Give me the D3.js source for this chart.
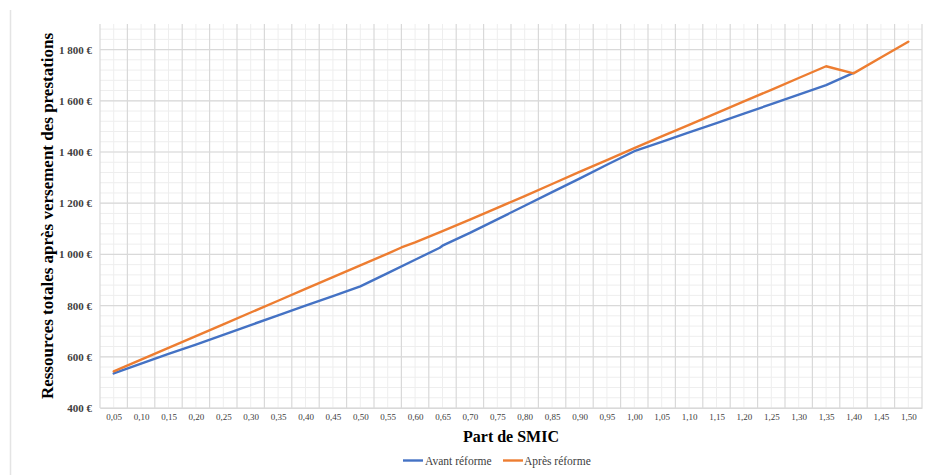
<!DOCTYPE html>
<html>
<head>
<meta charset="utf-8">
<script src="https://cdn.jsdelivr.net/npm/d3@7"></script>
<style>
  html, body { margin: 0; padding: 0; background: #fff; }
  svg { display: block; }
</style>
</head>
<body>
<svg id="chart" width="949" height="475"></svg>
<script>
const categories = [0.05,0.10,0.15,0.20,0.25,0.30,0.35,0.40,0.45,0.50,0.55,0.60,0.65,0.70,0.75,0.80,0.85,0.90,0.95,1.00,1.05,1.10,1.15,1.20,1.25,1.30,1.35,1.40,1.45,1.50];
const avantReforme = [535,573,611,648,686,724,762,800,837,875,927,979,1034,1084,1137,1190,1243,1296,1350,1403,1440,1477,1513,1550,1587,1624,1661,1709,null,null];
const apresReforme = [543,589,635,681,727,773,819,865,911,957,1003,1047,1091,1136,1182,1228,1275,1322,1368,1415,1461,1506,1552,1598,1643,1689,1735,1707,1769,1831];
// intermediate points visible as small kinks between categories
const avantExtraX = [0.645];
const avantExtraY = [1026];
const apresExtraX = [0.575];
const apresExtraY = [1027];
const yTicks = [400,600,800,1000,1200,1400,1600,1800];
const seriesNames = ["Avant réforme", "Après réforme"];
const seriesColors = ["#4472C4", "#ED7D31"];

const svg = d3.select("#chart");
const L = 100, R = 922, T = 24, B = 408;
const step = 0.05;
const x = d3.scaleLinear().domain([categories[0] - step/2, categories[categories.length-1] + step/2]).range([L, R]);
const y = d3.scaleLinear().domain([400, 1900]).range([B, T]);
const serif = "'Liberation Serif', 'Times New Roman', serif";

// left frame line of the screenshot
svg.append("line").attr("x1", 10.5).attr("x2", 10.5).attr("y1", 10).attr("y2", 475)
  .attr("stroke", "#e4e4e4").attr("stroke-width", 1.5);

const grid = svg.append("g");
d3.range(400, 1900, 40).forEach(v => {
  grid.append("line").attr("x1", L).attr("x2", R).attr("y1", y(v)).attr("y2", y(v))
    .attr("stroke", "#eeeeee").attr("stroke-width", 1);
});
categories.forEach(c => {
  grid.append("line").attr("x1", x(c)).attr("x2", x(c)).attr("y1", T).attr("y2", B)
    .attr("stroke", "#eeeeee").attr("stroke-width", 1);
});
yTicks.forEach(v => {
  grid.append("line").attr("x1", L).attr("x2", R).attr("y1", y(v)).attr("y2", y(v))
    .attr("stroke", "#d9d9d9").attr("stroke-width", 1.2);
});
d3.range(categories.length + 1).forEach(i => {
  const xv = categories[0] - step/2 + i * step;
  grid.append("line").attr("x1", x(xv)).attr("x2", x(xv)).attr("y1", T).attr("y2", B)
    .attr("stroke", "#d9d9d9").attr("stroke-width", 1.2);
});

// axes
const xAxis = d3.axisBottom(x).tickValues(categories).tickSize(0).tickPadding(6)
  .tickFormat(d => d.toFixed(2).replace(".", ","));
const gx = svg.append("g").attr("transform", `translate(0,${B})`).call(xAxis);
gx.attr("font-family", serif);
gx.select(".domain").attr("stroke", "#d9d9d9").attr("stroke-width", 1.2);
gx.selectAll("text").style("font-family", serif)
  .attr("font-size", 9).attr("fill", "#404040");

const fmtEuro = d => d3.format(",")(d).replace(/,/g, "\u00a0") + "\u00a0€";
const yAxis = d3.axisLeft(y).tickValues(yTicks).tickSize(0).tickPadding(8).tickFormat(fmtEuro);
const gy = svg.append("g").attr("transform", `translate(${L},0)`).call(yAxis);
gy.attr("font-family", serif);
gy.select(".domain").remove();
gy.selectAll("text").style("font-family", serif)
  .attr("font-size", 11).attr("font-weight", "bold").attr("fill", "#404040");

// series
function buildPoints(vals, ex, ey) {
  const pts = [];
  categories.forEach((c, i) => { if (vals[i] != null) pts.push([c, vals[i]]); });
  ex.forEach((xv, i) => pts.push([xv, ey[i]]));
  pts.sort((a, b) => a[0] - b[0]);
  return pts;
}
const line = d3.line().x(d => x(d[0])).y(d => y(d[1]));
const series = [buildPoints(avantReforme, avantExtraX, avantExtraY), buildPoints(apresReforme, apresExtraX, apresExtraY)];
series.forEach((pts, i) => {
  svg.append("path").datum(pts).attr("d", line).attr("fill", "none")
    .attr("stroke", seriesColors[i]).attr("stroke-width", 2.4)
    .attr("stroke-linejoin", "round").attr("stroke-linecap", "round");
});

// titles
svg.append("text").attr("x", (L + R) / 2).attr("y", 442).attr("text-anchor", "middle")
  .style("font-family", serif).attr("font-weight", "bold")
  .attr("font-size", 16).attr("fill", "#000").text("Part de SMIC");
svg.append("text").attr("transform", `translate(52.5,${(T + B) / 2}) rotate(-90)`)
  .attr("text-anchor", "middle")
  .style("font-family", serif).attr("font-weight", "bold")
  .attr("font-size", 17).attr("fill", "#000").text("Ressources totales après versement des prestations");

// legend
const legendItems = [{x: 403, tx: 425}, {x: 503, tx: 524}];
legendItems.forEach((it, i) => {
  svg.append("line").attr("x1", it.x).attr("x2", it.x + 20).attr("y1", 460.5).attr("y2", 460.5)
    .attr("stroke", seriesColors[i]).attr("stroke-width", 2.4);
  svg.append("text").attr("x", it.tx).attr("y", 464.5)
    .style("font-family", serif)
    .attr("font-size", 11.5).attr("fill", "#404040").text(seriesNames[i]);
});
</script>
</body>
</html>
